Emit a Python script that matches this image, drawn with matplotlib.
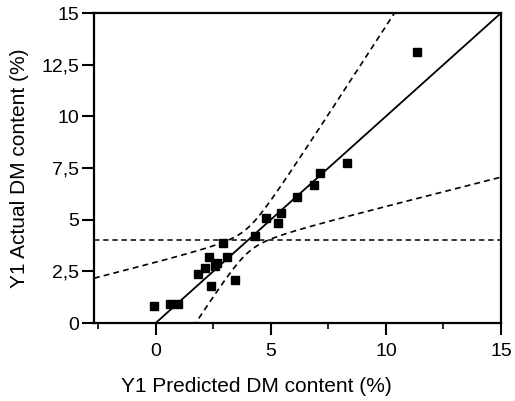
import numpy as np
import matplotlib
matplotlib.use("Agg")
import matplotlib.pyplot as plt
from matplotlib.ticker import FixedLocator, FuncFormatter

plt.rcParams['font.family'] = ['Liberation Sans', 'DejaVu Sans']

# Data
predicted = [-0.07, 0.61, 0.97, 1.84, 2.13, 2.32, 2.39, 2.57, 2.67, 2.93, 3.10, 3.45,
             4.30, 4.81, 5.32, 5.46, 6.12, 6.87, 7.13, 8.29, 11.36]
actual = [0.82, 0.92, 0.92, 2.37, 2.65, 3.21, 1.79, 2.76, 2.92, 3.86, 3.21, 2.10,
          4.21, 5.08, 4.82, 5.31, 6.11, 6.68, 7.24, 7.73, 13.10]
mean_actual = 4.02
# confidence curve parameters (hyperbola around the fit line y = x)
conf_center = 4.0
conf_a = 0.6
conf_b = 0.72

x_ticks = [0, 5, 10, 15]
x_minor = [-2.5, 2.5, 7.5, 12.5]
y_ticks = [0, 2.5, 5, 7.5, 10, 12.5, 15]

fig = plt.figure(figsize=(5.15, 4.01), dpi=100)
ax = fig.add_axes([94/515, 1-323/401, (501-94)/515, (323-13)/401])

xlim = (-2.68, 15)
ylim = (0, 15)

dash = (0, (3.5, 2.5))
xs = np.linspace(xlim[0], xlim[1], 400)
hw = np.sqrt(conf_a**2 + conf_b**2 * (xs - conf_center)**2)
ax.plot(xs, xs + hw, color='black', lw=1.2, ls=dash)
ax.plot(xs, xs - hw, color='black', lw=1.2, ls=dash)
ax.axhline(mean_actual, color='black', lw=1.1, ls=dash)
ax.plot([0, 15], [0, 15], color='black', lw=1.3)
ax.plot(predicted, actual, ls='none', marker='s', ms=5.3, color='black')

ax.set_xlim(*xlim)
ax.set_ylim(*ylim)
ax.xaxis.set_major_locator(FixedLocator(x_ticks))
ax.xaxis.set_minor_locator(FixedLocator(x_minor))
ax.yaxis.set_major_locator(FixedLocator(y_ticks))
ax.yaxis.set_major_formatter(FuncFormatter(lambda v, p: (f"{v:g}").replace('.', ',')))
ax.tick_params(which='major', direction='out', length=8.5, width=1.5, labelsize=14, pad=2)
ax.tick_params(axis='x', which='major', pad=6)
ax.tick_params(which='minor', direction='out', length=4, width=1.2)
for s in ax.spines.values():
    s.set_linewidth(1.6)

ax.set_xlabel('Y1 Predicted DM content (%)', fontsize=15)
ax.set_ylabel('Y1 Actual DM content (%)', fontsize=15)
ax.xaxis.set_label_coords((256-94)/407, -(386-323)/310, transform=ax.transAxes)
ax.yaxis.set_label_coords(-(94-20)/407, 0.5, transform=ax.transAxes)
ax.xaxis.label.set_va('center')
ax.yaxis.label.set_va('center')

fig.savefig('out.png', dpi=100)
